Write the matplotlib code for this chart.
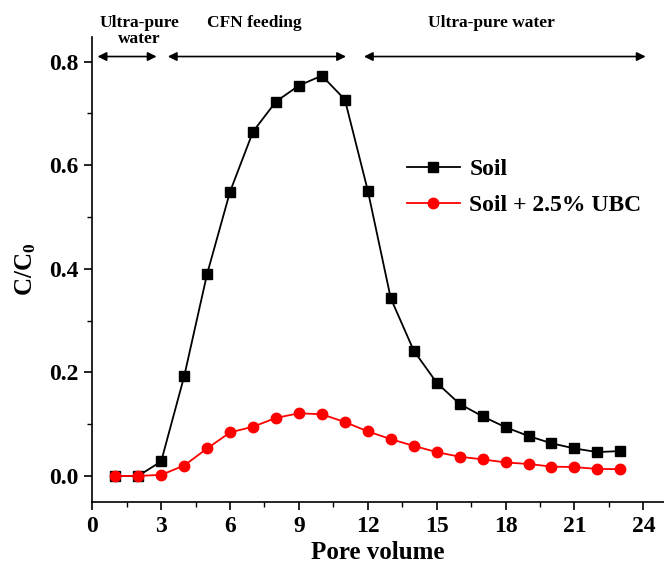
import matplotlib
matplotlib.use("Agg")
import matplotlib.pyplot as plt
from matplotlib.ticker import MultipleLocator, FormatStrFormatter

plt.rcParams['font.family'] = ['Liberation Serif', 'DejaVu Serif']
plt.rcParams['font.weight'] = 'bold'
plt.rcParams['mathtext.fontset'] = 'custom'
plt.rcParams['mathtext.rm'] = 'Liberation Serif:bold'
plt.rcParams['mathtext.it'] = 'Liberation Serif:bold'
plt.rcParams['mathtext.bf'] = 'Liberation Serif:bold'

pore_volume = list(range(1, 24))
soil = [0.0, 0.0, 0.028, 0.192, 0.39, 0.549, 0.665, 0.723, 0.754, 0.773, 0.727,
        0.551, 0.343, 0.242, 0.180, 0.139, 0.115, 0.094, 0.077, 0.063, 0.053,
        0.046, 0.048]
soil_ubc = [0.0, 0.0, 0.002, 0.02, 0.053, 0.084, 0.095, 0.112, 0.121, 0.119, 0.104,
            0.086, 0.071, 0.058, 0.046, 0.037, 0.032, 0.026, 0.023, 0.018, 0.017,
            0.0135, 0.013]
series_labels = ["Soil", "Soil + 2.5% UBC"]

phase_labels = ["Ultra-pure\nwater", "CFN feeding", "Ultra-pure water"]
phase_text_x = [2.05, 7.06, 17.4]
phase_text_y = [0.86, 0.874, 0.874]
phase_arrows = [(0.23, 2.8), (3.29, 11.05), (11.83, 24.1)]
arrow_y = 0.81

fig = plt.figure(figsize=(6.64, 5.67), dpi=100)
ax = fig.add_axes([0.139, 0.115, 0.861, 0.82])

ax.plot(pore_volume, soil, color='black', marker='s', markersize=6.5,
        linewidth=1.3, label=series_labels[0], zorder=3)
ax.plot(pore_volume, soil_ubc, color='red', marker='o', markersize=7.5,
        linewidth=1.3, label=series_labels[1], zorder=3)

ax.set_xlim(0, 24.9)
ax.set_ylim(-0.05, 0.848)
ax.xaxis.set_major_locator(MultipleLocator(3))
ax.xaxis.set_minor_locator(MultipleLocator(1.5))
ax.yaxis.set_major_locator(MultipleLocator(0.2))
ax.yaxis.set_minor_locator(MultipleLocator(0.1))
ax.yaxis.set_major_formatter(FormatStrFormatter('%.1f'))

for s in ['top', 'right']:
    ax.spines[s].set_visible(False)
for s in ['left', 'bottom']:
    ax.spines[s].set_linewidth(1.2)

ax.tick_params(axis='both', which='major', direction='out', length=6, width=1.2,
               labelsize=17, pad=4)
ax.tick_params(axis='both', which='minor', direction='out', length=3.5, width=1.0)

ax.set_xlabel("Pore volume", fontsize=18, fontweight='bold', labelpad=3)
ax.set_ylabel("C/C$_0$", fontsize=18, fontweight='bold', labelpad=8)

for (x0, x1) in phase_arrows:
    ax.annotate("", xy=(x1, arrow_y), xytext=(x0, arrow_y),
                arrowprops=dict(arrowstyle='<|-|>', color='black', lw=1.2,
                                mutation_scale=13, shrinkA=0, shrinkB=0),
                annotation_clip=False)
for lbl, tx, ty in zip(phase_labels, phase_text_x, phase_text_y):
    ax.text(tx, ty, lbl, ha='center', va='center', fontsize=12.5,
            fontweight='bold', linespacing=1.0, clip_on=False)

leg = ax.legend(loc='upper left', bbox_to_anchor=(0.55, 0.738), frameon=False,
                fontsize=17, handlelength=2.25, handletextpad=0.4,
                labelspacing=0.6, borderaxespad=0, borderpad=0)

fig.savefig("out.png", dpi=100)
